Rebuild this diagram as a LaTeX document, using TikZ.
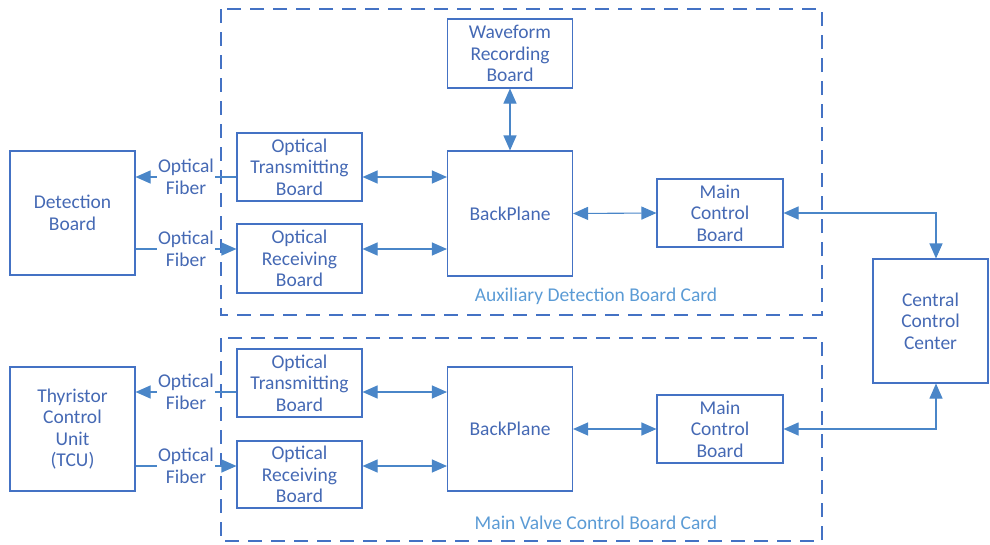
\documentclass[tikz,border=0pt]{standalone}
\usepackage{fontspec}
\setmainfont{Carlito}
\usetikzlibrary{arrows.meta}
\definecolor{boxline}{HTML}{4472C4}
\definecolor{txt}{HTML}{4569B4}
\definecolor{arr}{HTML}{4A86C8}
\definecolor{cardtxt}{HTML}{5B9BD5}
\begin{document}
\begin{tikzpicture}[x=1pt,y=-1pt,
  blk/.style={draw=boxline,line width=1.1pt,inner sep=0pt,text=txt,align=center,
    font=\fontsize{19.5}{21.5}\selectfont},
  card/.style={draw=boxline,line width=1.8pt,dash pattern=on 14pt off 9pt},
  link/.style={draw=arr,line width=1.1pt},
  tip/.style={-{Triangle[length=15pt,width=13pt]}},
  both/.style={{Triangle[length=15pt,width=13pt]}-{Triangle[length=15pt,width=13pt]}},
  fib/.style={fill=white,inner sep=1pt,text=txt,align=center,font=\fontsize{19.5}{21.5}\selectfont},
  cardlbl/.style={text=cardtxt,font=\fontsize{19.5}{21.5}\selectfont}]
\useasboundingbox (0,0) rectangle (990,544);
% dashed cards
\draw[card] (221,9) rectangle (822,315);
\draw[card] (221,338) rectangle (822,541);
\node[cardlbl] (lblA) at (596,296) {Auxiliary Detection Board Card};
\node[cardlbl] (lblB) at (596,523) {Main Valve Control Board Card};
% top section
\node[blk,minimum width=125pt,minimum height=124pt] (det) at (72.5,213) {Detection\\Board};
\node[blk,minimum width=125pt,minimum height=68pt] (otb1) at (299.5,167) {Optical\\Transmitting\\Board};
\node[blk,minimum width=125pt,minimum height=69pt] (orb1) at (299.5,258.5) {Optical\\Receiving\\Board};
\node[blk,minimum width=125pt,minimum height=125pt] (bp1) at (510,213.5) {BackPlane};
\node[blk,minimum width=125pt,minimum height=69pt] (wrb) at (510,53.5) {Waveform\\Recording\\Board};
\node[blk,minimum width=126pt,minimum height=68pt] (mcb1) at (720,213) {Main\\Control\\Board};
\node[blk,minimum width=115pt,minimum height=124pt] (ccc) at (930.5,321) {Central\\Control\\Center};
% bottom section
\node[blk,minimum width=125pt,minimum height=124pt] (tcu) at (72.5,429) {Thyristor\\Control\\Unit\\(TCU)};
\node[blk,minimum width=125pt,minimum height=68pt] (otb2) at (299.5,383) {Optical\\Transmitting\\Board};
\node[blk,minimum width=125pt,minimum height=67pt] (orb2) at (299.5,474.5) {Optical\\Receiving\\Board};
\node[blk,minimum width=125pt,minimum height=124pt] (bp2) at (510,429) {BackPlane};
\node[blk,minimum width=126pt,minimum height=68pt] (mcb2) at (720,429) {Main\\Control\\Board};
% helper coordinates
\coordinate (c1) at (936,213);
\coordinate (c2) at (936,429);
% optical fibers top
\draw[link,tip] (otb1.west |- 0,177) -- node[fib,pos=0.5] (f1) {Optical\\Fiber} (det.east |- 0,177);
\draw[link,tip] (det.east |- 0,249) -- node[fib,pos=0.5] (f2) {Optical\\Fiber} (orb1.west |- 0,249);
% optical fibers bottom
\draw[link,tip] (otb2.west |- 0,392) -- node[fib,pos=0.5] (f3) {Optical\\Fiber} (tcu.east |- 0,392);
\draw[link,tip] (tcu.east |- 0,466) -- node[fib,pos=0.5] (f4) {Optical\\Fiber} (orb2.west |- 0,466);
% board links top
\draw[link,both] (otb1.east |- 0,177) -- (bp1.west |- 0,177);
\draw[link,both] (orb1.east |- 0,249) -- (bp1.west |- 0,249);
\draw[link,both] (wrb.south) -- (bp1.north);
\draw[link,both] (bp1.east) -- (mcb1.west);
\draw[link,both] (mcb1.east) -- (c1) -- (ccc.north -| c1);
% board links bottom
\draw[link,both] (otb2.east |- 0,392) -- (bp2.west |- 0,392);
\draw[link,both] (orb2.east |- 0,466) -- (bp2.west |- 0,466);
\draw[link,both] (bp2.east) -- (mcb2.west);
\draw[link,both] (mcb2.east) -- (c2) -- (ccc.south -| c2);
\end{tikzpicture}
\end{document}
